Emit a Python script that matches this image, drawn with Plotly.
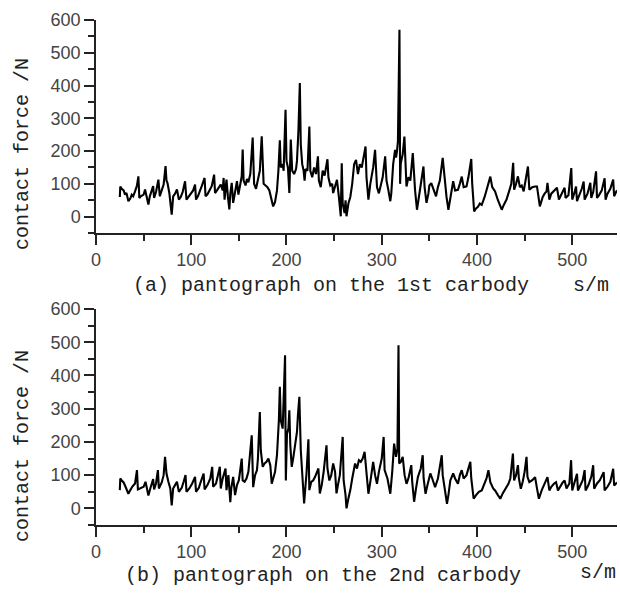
import plotly.graph_objects as go

# (a) pantograph on the 1st carbody: (s [m], contact force [N])
pts_a = [(25,60),(25.5,92),(27,85),(29,80),(30.5,67),(32,72),(34,47),(36,55),(37.5,67),(39,62),(41,77),(43,95),
 (44.5,123),(45.5,57),(47,62),(50,67),(51.5,83),(53,60),(55,37),(56.5,62),(58,75),(60,93),(61,57),(63,75),
 (65.5,113),(67,62),(69,80),(71,98),(73,154),(74,110),(75,103),(77,72),(79.5,6),(81,62),(83,70),(85,83),
 (87,52),(89,60),(91,75),(93.5,108),(95,52),(97,60),(100.5,72),(102,80),(104,98),(105,52),(107,62),(109,75),
 (111,93),(114,118),(115,62),(117,68),(119,80),(121.5,93),(124,128),(125,72),(127,80),(129,88),(131,98),
 (133,80),(134,118),(135,52),(137,113),(138.5,60),(140,22),(141,70),(142.5,103),(144,42),(146,80),(148,108),
 (149.5,67),(151,90),(153,123),(154,205),(155,110),(157,95),(158.5,115),(160,105),(162,130),(164.5,241),
 (166,100),(168,85),(170,110),(172,140),(174,245),(175,130),(176,100),(178,95),(180,90),(182,80),(184,55),
 (186,31),(188,45),(190,80),(191.5,140),(193,233),(194,150),(196,160),(197,140),(199,326),(200,170),
 (201.5,150),(203,72),(204.5,235),(206,140),(208,130),(210,145),(211,170),(212.5,260),(214,408),(215,220),
 (216.5,160),(218,140),(219,110),(220,145),(222,140),(224,275),(225,140),(227,120),(229,150),(231,130),
 (233,184),(234,110),(236,90),(238,140),(240,125),(243,175),(244,120),(246,95),(248,100),(249,72),(251,90),
 (253,112),(255,60),(257,1),(258,163),(259,40),(261,11),(262,50),(263,1),(265,40),(267,60),(269,100),
 (271,160),(273,173),(275,130),(277,160),(279,150),(281,180),(283,214),(284,120),(286,52),(288,100),
 (290,130),(291,150),(293,204),(294,110),(295,90),(297,71),(299,100),(301,120),(303.6,184),(305,110),
 (307,80),(309,47),(310,70),(312,160),(314,204),(315,180),(316,200),(317,230),(318.6,570),(319.3,100),
 (320,163),(322,190),(323.8,244),(325,140),(326,92),(328,120),(330,110),(332.6,194),(334,110),(335,80),
 (337,21),(339,60),(341,90),(343.8,153),(345,90),(347,42),(349,70),(350,95),(352,102),(354,85),(357,62),
 (359,90),(361,110),(364,179),(366,110),(368,60),(370,21),(372,60),(375,108),(377,80),(380,82),(382,100),
 (384,122),(386,90),(389,92),(391,120),(394,176),(395,100),(397,16),(399,25),(401,30),(403,40),(405,36),
 (408,60),(411,90),(414,122),(416,90),(419,77),(422,50),(426,21),(428,35),(431,52),(434,80),(436,100),
 (438,164),(439,82),(441,100),(443,123),(445,90),(447,95),(449,77),(451,110),(453.5,153),(455,82),(458,90),
 (461,92),(463,92),(466,31),(469,60),(471,70),(473,77),(474,103),(476,52),(478,70),(481,80),(484,88),
 (486,52),(488,65),(490,75),(492,88),(493,57),(496,65),(499,148),(500,52),(502,70),(504,92),(505,47),
 (508,70),(510,85),(512,107),(513,52),(516,70),(519,103),(520,57),(522,75),(525,138),(526,57),(528,65),
 (531,80),(534,117),(535,52),(537,70),(540,85),(543,113),(544,62),(546,75),(547,80)]

# (b) pantograph on the 2nd carbody
pts_b = [(25,55),(25.5,90),(27,84),(29,78),(31,65),(34,44),(36,55),(38,65),(41,75),(43,115),(44,57),(47,60),
 (50,65),(52,80),(55,39),(57,60),(60,88),(61,57),(63,75),(65,115),(66,60),(69,78),(71,100),(72.5,155),
 (74,105),(76,80),(78,60),(79.5,9),(81,60),(83,70),(85,80),(87,50),(90,62),(92,80),(94,100),(95,50),(98,60),
 (101,75),(104,95),(105,50),(108,62),(110,80),(113,105),(114,57),(117,70),(120,90),(122,125),(123,65),
 (126,75),(128,100),(130,125),(131,60),(133,90),(136,120),(137,55),(139,100),(141,19),(142,60),(144,95),
 (146,40),(148,70),(150,85),(153,150),(154,84),(156,80),(158,90),(160,110),(163.5,220),(165,64),(167,100),
 (169,115),(170,150),(172,290),(173,175),(175,125),(177,135),(179,140),(181,150),(183,130),(184.5,74),
 (186,90),(188,110),(190,160),(192,265),(193,366),(194,265),(196,240),(197,320),(198.5,461),(199.3,84),
 (200.5,225),(202,240),(203,295),(204,190),(205.5,125),(207,150),(209,185),(211,230),(212,280),(213.5,336),
 (215,175),(217,90),(218.5,15),(220,70),(221,105),(223,208),(224,55),(226,80),(228,84),(230,95),(232,110),
 (233.5,120),(235,45),(237,70),(239,110),(242,190),(243,120),(245,84),(247,100),(249,135),(251,110),
 (252.5,45),(254,70),(256,100),(259,215),(260,84),(262,40),(263,0),(265,30),(267,55),(269,90),(272,135),
 (274,120),(276,145),(278,140),(280,150),(282,170),(284,100),(286,44),(288,80),(291,140),(293,100),(295,74),
 (297,110),(300,150),(302,215),(303,115),(306,90),(309,44),(311,110),(313,195),(315,155),(316.5,180),
 (317.6,491),(318.3,135),(320,140),(322,155),(324,100),(326,74),(328,90),(331,130),(332,80),(334,20),
 (336,60),(338,95),(341,120),(343,160),(344,90),(346,44),(348,70),(351,105),(353,90),(356,64),(359,90),
 (361,120),(363,160),(364,100),(366,60),(368.5,14),(370,40),(372,84),(375,105),(377,90),(380,74),(382,100),
 (384,115),(386,90),(389,100),(393,140),(394,90),(396.5,29),(399,40),(402,50),(405,54),(408,75),(410,90),
 (412,115),(414,79),(417,60),(419,54),(422,40),(424.5,29),(427,45),(430,60),(433,74),(435,90),(437.7,165),
 (439,84),(441,100),(443,130),(444,90),(446,59),(448,80),(450,110),(452,155),(453,95),(455,79),(458,85),
 (461,94),(463,60),(465,29),(468,55),(471,74),(474,94),(476,54),(478,65),(481,75),(483,79),(485,54),
 (488,70),(490,78),(492,84),(494,60),(497,75),(498.8,145),(500,54),(502,75),(505,104),(506,54),(509,70),
 (511,85),(513,115),(514,54),(517,70),(520,95),(522,130),(523,59),(526,75),(529,85),(533,109),(534,54),
 (537,65),(540,80),(543,119),(544,69),(546,75),(547,78)]

x_ticks = [0, 100, 200, 300, 400, 500]
y_ticks = [0, 100, 200, 300, 400, 500, 600]
y_title = "contact force /N"
cap_a = "(a) pantograph on the 1st carbody"
cap_b = "(b) pantograph on the 2nd carbody"
x_unit = "s/m"

s_a = [p[0] for p in pts_a]; f_a = [p[1] for p in pts_a]
s_b = [p[0] for p in pts_b]; f_b = [p[1] for p in pts_b]

axcol = "#222222"
tickfont = dict(family="Liberation Sans, Arial, sans-serif", size=18, color="#444444")
monofont = dict(family="Liberation Mono, Courier New, monospace", size=20, color="#222222")

fig = go.Figure()
fig.add_trace(go.Scatter(x=s_a, y=f_a, mode="lines", line=dict(color="black", width=2.1),
                         xaxis="x", yaxis="y", showlegend=False, hoverinfo="skip"))
fig.add_trace(go.Scatter(x=s_b, y=f_b, mode="lines", line=dict(color="black", width=2.1),
                         xaxis="x2", yaxis="y2", showlegend=False, hoverinfo="skip"))

def xax(anchor):
    return dict(range=[0, 547], tickvals=x_ticks, ticks="outside", ticklen=10, tickwidth=1.5,
                tickcolor=axcol, showline=True, linecolor=axcol, linewidth=1.5, showgrid=False,
                zeroline=False, tickfont=tickfont, anchor=anchor, domain=[0, 1],
                minor=dict(dtick=50, tick0=0, ticks="outside", ticklen=6, tickwidth=1.5, tickcolor=axcol))

def yax(anchor, dom):
    return dict(range=[-50, 600], tickvals=y_ticks, ticks="outside", ticklen=10, tickwidth=1.5,
                tickcolor=axcol, showline=True, linecolor=axcol, linewidth=1.5, showgrid=False,
                zeroline=False, tickfont=tickfont, anchor=anchor, domain=dom,
                minor=dict(dtick=50, tick0=0, ticks="outside", ticklen=6, tickwidth=1.5, tickcolor=axcol))

# window pixel -> paper coordinates (plot area spans x 96..617, y 20..525)
def py(pix):
    return (525 - pix) / 505

def px(pix):
    return (pix - 96) / 521

def ann(text, x, y, angle=0):
    return dict(text=text, x=px(x), y=py(y), xref="paper", yref="paper", showarrow=False,
                font=monofont, xanchor="center", yanchor="middle", textangle=angle)

fig.update_layout(
    width=620, height=595,
    margin=dict(l=96, r=3, t=20, b=70),
    paper_bgcolor="white", plot_bgcolor="white",
    xaxis=xax("y"), yaxis=yax("x", [py(233), 1.0]),
    xaxis2=xax("y2"), yaxis2=yax("x2", [0.0, py(309)]),
    annotations=[
        ann(cap_a, 331, 285),
        ann(x_unit, 591, 285),
        ann(cap_b, 323, 575),
        ann(x_unit, 598, 572),
        ann(y_title, 22, 154, -90),
        ann(y_title, 22, 446, -90),
    ],
)

fig.write_html("out.html", config={"displayModeBar": False},
               post_script="document.body.style.margin='0';document.body.style.overflow='hidden';")
